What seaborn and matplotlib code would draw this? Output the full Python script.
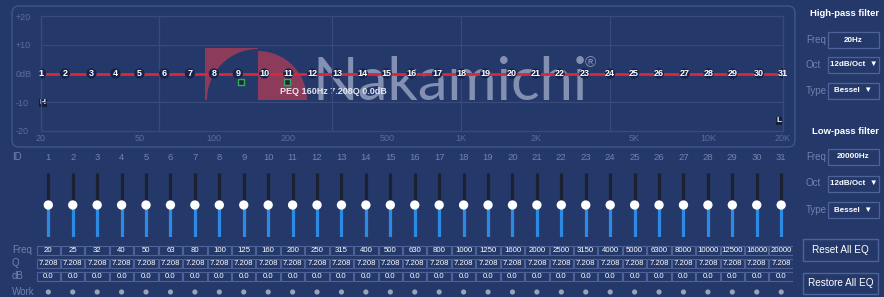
import matplotlib
matplotlib.use("Agg")
import matplotlib.pyplot as plt
import seaborn as sns
from matplotlib.patches import Rectangle, Wedge, FancyBboxPatch

# ---- data ----
BAND_IDS = list(range(1, 32))
FREQS = [20, 25, 32, 40, 50, 63, 80, 100, 125, 160, 200, 250, 315, 400, 500, 630,
         800, 1000, 1250, 1600, 2000, 2500, 3150, 4000, 5000, 6300, 8000, 10000,
         12500, 16000, 20000]
Q_VALUES = [7.208, 7.208, 7.208, 7.208, 7.208, 7.208, 7.208, 7.208, 7.208, 7.208,
            7.208, 7.208, 7.208, 7.208, 7.208, 7.208, 7.208, 7.208, 7.208, 7.208,
            7.208, 7.208, 7.208, 7.208, 7.208, 7.208, 7.208, 7.208, 7.208, 7.208, 7.208]
GAINS_DB = [0.0, 0.0, 0.0, 0.0, 0.0, 0.0, 0.0, 0.0, 0.0, 0.0, 0.0, 0.0, 0.0, 0.0, 0.0, 0.0,
            0.0, 0.0, 0.0, 0.0, 0.0, 0.0, 0.0, 0.0, 0.0, 0.0, 0.0, 0.0, 0.0, 0.0, 0.0]
WORK = [1, 1, 1, 1, 1, 1, 1, 1, 1, 1, 1, 1, 1, 1, 1, 1,
        1, 1, 1, 1, 1, 1, 1, 1, 1, 1, 1, 1, 1, 1, 1]

X_TICKS = [20, 50, 100, 200, 500, 1000, 2000, 5000, 10000, 20000]
X_TICK_LABELS = ['20', '50', '100', '200', '500', '1K', '2K', '5K', '10K', '20K']
Y_TICKS = [20, 10, 0, -10, -20]
Y_TICK_LABELS = ['+20', '+10', '0dB', '-10', '-20']
GRID_FREQS = [60, 300, 1000, 4000]

# selected PEQ band and its bandwidth handles
PEQ_LABEL = 'PEQ 160Hz 7.208Q 0.0dB'
HANDLE_FREQS = [129, 198]
HANDLE_GAINS = [-3, -3]

HP_SETTINGS = [('Freq', '20Hz'), ('Oct', '12dB/Oct  \u25bc'), ('Type', 'Bessel  \u25bc')]
LP_SETTINGS = [('Freq', '20000Hz'), ('Oct', '12dB/Oct  \u25bc'), ('Type', 'Bessel  \u25bc')]
BUTTONS = ['Reset All EQ', 'Restore All EQ']

# ---- colours ----
BG = '#243869'
PANEL_EDGE = '#40558a'
GRID = '#38497b'
DIM = '#5b6d9d'
LABEL = '#7282ab'
CELL_EDGE = '#4d6296'
RED = '#d8283a'
LOGO_RED = '#8c3b5b'
MARK = '#17234a'
BLUE = '#2d8ae4'
TRACK = '#1b2133'
WATERMARK = '#8490b2'

sns.set_theme(style='dark')
plt.rcParams['font.family'] = ['Liberation Sans', 'DejaVu Sans']

W, H = 884, 297
fig = plt.figure(figsize=(W / 100, H / 100), dpi=100, facecolor=BG)


def px_axes(x0, y0, x1, y1):
    # axes from pixel box (top-left origin)
    return fig.add_axes([x0 / W, 1 - y1 / H, (x1 - x0) / W, (y1 - y0) / H])


# background canvas in pixel coordinates
bg = fig.add_axes([0, 0, 1, 1])
bg.set_xlim(0, W)
bg.set_ylim(H, 0)
bg.axis('off')
bg.set_facecolor(BG)

# graph panel frame
bg.add_patch(FancyBboxPatch((12, 6), 783, 141, boxstyle='round,pad=0,rounding_size=7',
                            fc='none', ec=PANEL_EDGE, lw=1))

# Nakamichi watermark
bg.add_patch(Rectangle((205, 48), 53, 52, fc=LOGO_RED, ec='none'))
bg.add_patch(Wedge((258, 100), 51, 180, 270, fc=BG, ec='none'))
bg.add_patch(Wedge((258, 100), 49, 270, 360, fc=LOGO_RED, ec='none'))
bg.text(313, 100, 'Nakamichi', family=['Lato', 'DejaVu Sans'],
        fontsize=43, color=WATERMARK, ha='left', va='baseline')
bg.text(590, 63, '\u00ae', fontsize=11, color=WATERMARK, ha='center', va='center')

# ---- response graph ----
eq = px_axes(41, 16, 783, 131)
eq.set_facecolor('none')
eq.set_xscale('log')
eq.set_xlim(20, 20000)
eq.set_ylim(-20, 20)
for s in eq.spines.values():
    s.set_color(GRID)
    s.set_linewidth(1)
for g in [10, 0, -10]:
    eq.axhline(g, color=GRID, lw=0.9, zorder=0)
for f in GRID_FREQS:
    eq.axvline(f, color=GRID, lw=0.9, zorder=0)
eq.set_xticks(X_TICKS)
eq.set_xticklabels(X_TICK_LABELS)
eq.xaxis.set_minor_locator(matplotlib.ticker.NullLocator())
eq.set_yticks(Y_TICKS)
eq.set_yticklabels(Y_TICK_LABELS, ha='left')
eq.tick_params(axis='x', length=0, pad=2, labelsize=6.5, labelcolor=DIM)
eq.tick_params(axis='y', length=0, pad=18, labelsize=6.5, labelcolor=DIM)
eq.grid(False)

sns.lineplot(x=FREQS, y=GAINS_DB, color=RED, lw=2, ax=eq, zorder=3)
sns.scatterplot(x=FREQS, y=GAINS_DB, s=55, color=MARK, edgecolor='none', ax=eq, zorder=4)
for bid, f, g in zip(BAND_IDS, FREQS, GAINS_DB):
    eq.text(f, g, str(bid), color='white', fontsize=6.5, fontweight='bold',
            ha='center', va='center', zorder=5)
sns.scatterplot(x=HANDLE_FREQS, y=HANDLE_GAINS, marker='s', s=20, color='#1c2b3c',
                edgecolor='#2fae52', linewidth=1, ax=eq, zorder=6)

bg.text(280, 91, PEQ_LABEL, color='#e2e6f0', fontsize=6.5, fontweight='bold',
        ha='left', va='center', zorder=7)
box = dict(boxstyle='square,pad=0.1', fc='#141d36', ec='none')
bg.text(43, 103, 'H', color='white', fontsize=6, fontweight='bold', ha='center',
        va='center', bbox=box)
bg.text(779, 121, 'L', color='white', fontsize=6, fontweight='bold', ha='center',
        va='center', bbox=box)

# ---- filter settings on the right ----
def filter_block(title, y_title, settings, y_rows):
    bg.text(845, y_title, title, color='white', fontsize=6.8, fontweight='bold',
            ha='center', va='center')
    for (name, val), y in zip(settings, y_rows):
        bg.text(806, y, name, color=LABEL, fontsize=7, ha='left', va='center')
        bg.add_patch(Rectangle((828, y - 8), 51, 16, fc='none', ec=CELL_EDGE, lw=0.9))
        bg.text(853.5, y, val, color='white', fontsize=5.8, fontweight='bold',
                ha='center', va='center')


filter_block('High-pass filter', 13, HP_SETTINGS, [40, 64.5, 90.5])
filter_block('Low-pass filter', 131, LP_SETTINGS, [157, 183.5, 210])

for label, (y0, y1) in zip(BUTTONS, [(239, 261), (273, 294)]):
    bg.add_patch(Rectangle((803, y0), 75, y1 - y0, fc='none', ec=CELL_EDGE, lw=1))
    bg.text(840.5, (y0 + y1) / 2, label, color='white', fontsize=7.2,
            ha='center', va='center')

# ---- band sliders ----
sl = px_axes(36.1, 173, 793.4, 237)
sl.set_xlim(0.5, 31.5)
sl.set_ylim(-20, 20)
sl.axis('off')
sl.vlines(BAND_IDS, GAINS_DB, 20, color=TRACK, lw=2.3)
sl.vlines(BAND_IDS, -20, GAINS_DB, color=BLUE, lw=2.3)
sns.scatterplot(x=BAND_IDS, y=GAINS_DB, s=45, color='white', edgecolor='none', ax=sl,
                zorder=3)

# ---- band table ----
tb = px_axes(36.1, 145, 793.4, 297)
tb.set_xlim(0.5, 31.5)
tb.set_ylim(297, 145)
tb.axis('off')
tb.set_facecolor('none')

for name, y in [('ID', 157), ('Freq', 250), ('Q', 263.5), ('dB', 276), ('Work', 292)]:
    bg.text(12, y, name, color=LABEL, fontsize=7, ha='left', va='center')

rows = [
    ([str(f) for f in FREQS], 245.5, 254.8),
    (['%.3f' % q for q in Q_VALUES], 258.7, 268.3),
    (['%.1f' % g for g in GAINS_DB], 271.7, 280.5),
]
for bid in BAND_IDS:
    tb.text(bid, 157, str(bid), color=LABEL, fontsize=6.8, ha='center', va='center')
for texts, y0, y1 in rows:
    for bid, t in zip(BAND_IDS, texts):
        tb.add_patch(Rectangle((bid - 0.48, y0), 0.96, y1 - y0, fc='none',
                               ec=CELL_EDGE, lw=0.8))
        tb.text(bid, (y0 + y1) / 2 + 0.3, t, color='white', fontsize=5.6,
                ha='center', va='center')

work_ids = [b for b, w in zip(BAND_IDS, WORK) if w]
sns.scatterplot(x=work_ids, y=[292] * len(work_ids), s=14, color='#9aa3b9',
                edgecolor='none', ax=tb)

fig.savefig('out.png', dpi=100, facecolor=BG)
